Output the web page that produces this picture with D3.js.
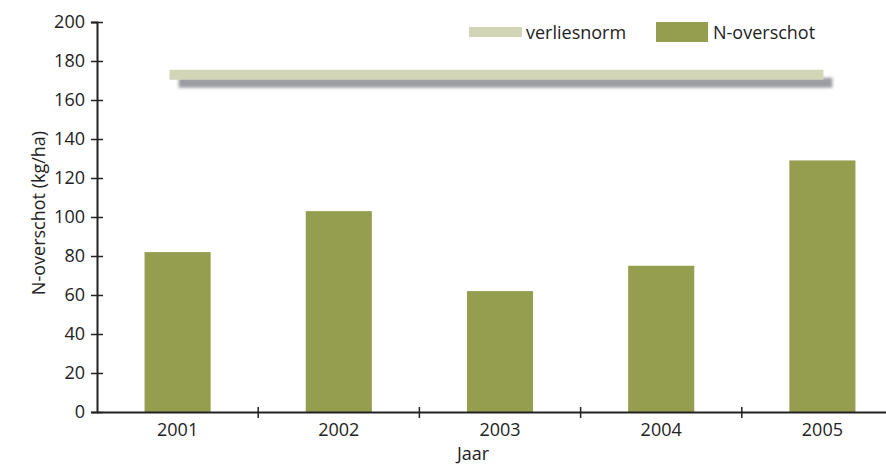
<!DOCTYPE html>
<html>
<head>
<meta charset="utf-8">
<script src="https://cdn.jsdelivr.net/npm/d3@7"></script>
<style>
  body { margin: 0; background: #fff; }
  svg { display: block; font-family: "Open Sans", sans-serif; font-weight: 500; }
</style>
</head>
<body>
<div id="chart"></div>
<script>
// data
const years      = ["2001", "2002", "2003", "2004", "2005"];
const overschot  = [82, 103, 62, 75, 129];
const norm       = [173, 173, 173, 173, 173];
const yTicks     = [0, 20, 40, 60, 80, 100, 120, 140, 160, 180, 200];

const W = 886, H = 464;
const FS = 18;
const svg = d3.select("#chart").append("svg")
    .attr("width", W).attr("height", H);

// scales
const x = d3.scaleBand()
    .domain(years)
    .range([97, 903])
    .paddingInner(0.59)
    .paddingOuter(0.295);

const y = d3.scaleLinear()
    .domain([0, 200])
    .range([412, 22]);

// soft grey shadow for the norm line (user space, the line is flat)
const defs = svg.append("defs");
const f = defs.append("filter").attr("id", "shadow")
    .attr("filterUnits", "userSpaceOnUse")
    .attr("color-interpolation-filters", "sRGB")
    .attr("x", 120).attr("y", 40).attr("width", 760).attr("height", 80);
f.append("feGaussianBlur").attr("in", "SourceAlpha").attr("stdDeviation", 1.5).attr("result", "b");
f.append("feOffset").attr("in", "b").attr("dx", 9).attr("dy", 8).attr("result", "o");
f.append("feFlood").attr("flood-color", "#9c9ca4").attr("result", "c");
f.append("feComposite").attr("in", "c").attr("in2", "o").attr("operator", "in").attr("result", "s");
const fm = f.append("feMerge");
fm.append("feMergeNode").attr("in", "s");
fm.append("feMergeNode").attr("in", "SourceGraphic");

// bars
svg.append("g")
  .selectAll("rect")
  .data(years)
  .join("rect")
    .attr("x", d => x(d))
    .attr("y", (d, i) => y(overschot[i]))
    .attr("width", x.bandwidth())
    .attr("height", (d, i) => y(0) - y(overschot[i]))
    .attr("fill", "#949e4e");

// norm line
const line = d3.line()
    .x((d, i) => x(years[i]) + x.bandwidth() / 2 + (i === 0 ? -8 : 1))
    .y(d => y(d));

svg.append("path")
    .datum(norm)
    .attr("d", line)
    .attr("fill", "none")
    .attr("stroke", "#d2d5b6")
    .attr("stroke-width", 10)
    .attr("filter", "url(#shadow)");

// axes
const yAxis = svg.append("g")
    .attr("transform", "translate(97,0)")
    .call(d3.axisLeft(y).tickValues(yTicks).tickSize(6).tickPadding(6));
yAxis.selectAll(".tick line").attr("x2", 6).attr("x1", -6);

const xAxis = svg.append("g")
    .attr("transform", "translate(0,412)")
    .call(d3.axisBottom(x).tickSize(0).tickPadding(11));

// category boundary ticks
xAxis.selectAll(".sep")
  .data(years.slice(1))
  .join("line")
    .attr("class", "sep")
    .attr("x1", d => x(d) - x.step() * x.paddingInner() / 2)
    .attr("x2", d => x(d) - x.step() * x.paddingInner() / 2)
    .attr("y1", -5).attr("y2", 6)
    .attr("stroke", "#222").attr("stroke-width", 1.5);

svg.selectAll(".domain").attr("stroke", "#222").attr("stroke-width", 2);
svg.selectAll(".tick line").attr("stroke", "#222").attr("stroke-width", 1.5);
svg.selectAll(".tick text")
    .attr("font-family", "Open Sans, sans-serif")
    .attr("font-weight", 500)
    .attr("font-size", FS)
    .attr("fill", "#222");

// axis titles
svg.append("text")
    .attr("transform", "translate(45,213) rotate(-90)")
    .attr("text-anchor", "middle")
    .attr("font-size", FS)
    .attr("fill", "#222")
    .text("N-overschot (kg/ha)");

svg.append("text")
    .attr("x", 473).attr("y", 460)
    .attr("text-anchor", "middle")
    .attr("font-size", FS)
    .attr("fill", "#222")
    .text("Jaar");

// legend
const lg = svg.append("g");
lg.append("rect")
    .attr("x", 469).attr("y", 27).attr("width", 53).attr("height", 10)
    .attr("fill", "#d2d5b6");
lg.append("text")
    .attr("x", 526).attr("y", 39)
    .attr("font-size", FS).attr("fill", "#222")
    .text("verliesnorm");
lg.append("rect")
    .attr("x", 656).attr("y", 22).attr("width", 52).attr("height", 20)
    .attr("fill", "#949e4e");
lg.append("text")
    .attr("x", 713).attr("y", 39)
    .attr("font-size", FS).attr("fill", "#222")
    .text("N-overschot");
</script>
</body>
</html>
